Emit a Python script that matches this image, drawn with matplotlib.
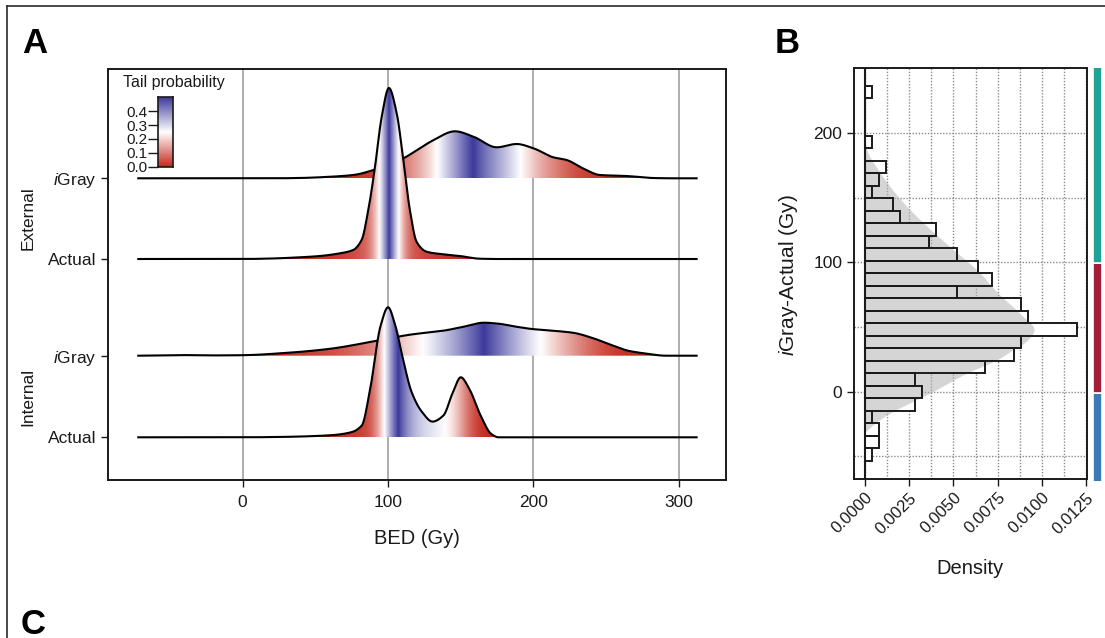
import numpy as np
import matplotlib
matplotlib.use("Agg")
import matplotlib.pyplot as plt
from matplotlib.colors import LinearSegmentedColormap
from matplotlib.patches import Polygon
from matplotlib.lines import Line2D
from matplotlib import font_manager

# ---------------------------------------------------------------- data
# Panel A: ridge profiles of BED (Gy), relative density heights
bed_range = (-72.5, 312.9)

ext_igray_x = [-72.5, 20, 39, 62, 76, 90, 100, 110.5, 119.7, 131, 146, 158.6,
               174.7, 188.4, 200, 213.6, 222.8, 234, 245.7, 264, 282, 295, 312.9]
ext_igray_h = [0, 0, 0.3, 1.7, 3.3, 8.3, 14, 20, 28, 38, 47, 41.7,
               31, 34.3, 30, 21, 18.3, 10, 3.3, 2.3, 0.3, 0, 0]

ext_actual_x = [-72.5, 0, 20, 39.4, 53.2, 67, 76, 81.8, 86.4, 91, 95.6, 100.6,
                105.9, 110.5, 115, 119.7, 126.5, 138, 149.4, 163, 175, 312.9]
ext_actual_h = [0, 0, 0.5, 1.7, 3, 5.7, 9, 19, 49, 92, 142, 171,
                146, 99, 49, 17, 7.3, 4.7, 3, 0.3, 0, 0]

int_igray_x = [-72.5, -50, -40, -20, 0, 29, 59, 90, 115, 138, 152, 166, 176,
               188, 199, 213, 227, 240, 253, 265, 278, 291, 312.9]
int_igray_h = [0, 0.3, 0.6, 0.3, 0.5, 2.7, 6.7, 14.3, 21, 25, 29, 33, 32,
               29, 26.7, 25, 23, 18, 11, 5, 2, 0, 0]

int_actual_x = [-72.5, 0, 23.6, 60, 74.5, 82, 87.3, 94.9, 100, 105, 110, 116,
                123, 130.6, 138, 144.6, 150, 156, 163.7, 171, 176, 312.9]
int_actual_h = [0, 0, 0.3, 2, 5, 12, 45, 111.7, 130, 111.7, 80, 46,
                26, 15.7, 21.7, 45, 60, 48, 21.7, 3.3, 0, 0]

row_labels = ["Actual", r"$\mathit{i}$Gray", "Actual", r"$\mathit{i}$Gray"]
row_positions = [0, 81.6, 178.3, 259]
group_labels = ["Internal", "External"]
bed_ticks = [0, 100, 200, 300]
tail_ticks = [0.0, 0.1, 0.2, 0.3, 0.4]

# Panel B: histogram of iGray - Actual (30 bins, bottom to top)
bin_start = -53.2
bin_width = 9.66
hist_density = [0.0004, 0.0008, 0.0008, 0.0004, 0.0028, 0.0032, 0.0028, 0.0068,
                0.0084, 0.0088, 0.0120, 0.0092, 0.0088, 0.0052, 0.0072, 0.0064,
                0.0052, 0.0036, 0.0040, 0.0020, 0.0016, 0.0004, 0.0008, 0.0012,
                0.0, 0.0004, 0.0, 0.0, 0.0, 0.0004]
kde_y = [-31, -21.4, -13.7, -0.8, 14.7, 25, 32.8, 40, 48.2, 60, 76.6, 92,
         107.6, 128, 148.9, 169.6, 187.6, 196]
kde_d = [0, 0.00085, 0.0018, 0.0037, 0.0058, 0.0075, 0.0084, 0.0092, 0.00956,
         0.0088, 0.0075, 0.0065, 0.0052, 0.0035, 0.002, 0.00085, 0.0001, 0]
density_ticks = [0.0, 0.0025, 0.005, 0.0075, 0.01, 0.0125]
diff_ticks = [0, 100, 200]
strip_breaks = [0, 100]
strip_colors = ["#3b7bb5", "#a31d3c", "#1fa396"]

# ---------------------------------------------------------------- style
names = {f.name for f in font_manager.fontManager.ttflist}
FONT = "Liberation Sans" if "Liberation Sans" in names else "DejaVu Sans"
plt.rcParams["font.family"] = [FONT, "DejaVu Sans"]
plt.rcParams["mathtext.fontset"] = "custom"
plt.rcParams["mathtext.rm"] = FONT
plt.rcParams["mathtext.it"] = FONT + ":italic"

TXT = "#1a1a1a"
tail_cmap = LinearSegmentedColormap.from_list(
    "tail", ["#c4291c", "#ffffff", "#3d3a9c"])

W, H = 1105, 638
fig = plt.figure(figsize=(W / 100, H / 100), dpi=100)


def px_box(l, t, r, b):
    return [l / W, 1 - b / H, (r - l) / W, (b - t) / H]


def pchip(x, y, xn):
    x = np.asarray(x, float)
    y = np.asarray(y, float)
    h = np.diff(x)
    delta = np.diff(y) / h
    d = np.zeros_like(y)
    for k in range(1, len(x) - 1):
        if delta[k - 1] * delta[k] > 0:
            w1 = 2 * h[k] + h[k - 1]
            w2 = h[k] + 2 * h[k - 1]
            d[k] = (w1 + w2) / (w1 / delta[k - 1] + w2 / delta[k])
    d[0] = delta[0] if delta[0] * delta[1] > 0 else 0
    d[-1] = delta[-1] if delta[-1] * delta[-2] > 0 else 0
    idx = np.clip(np.searchsorted(x, xn) - 1, 0, len(x) - 2)
    t = (xn - x[idx]) / h[idx]
    h00 = 2 * t**3 - 3 * t**2 + 1
    h10 = t**3 - 2 * t**2 + t
    h01 = -2 * t**3 + 3 * t**2
    h11 = t**3 - t**2
    return (h00 * y[idx] + h10 * h[idx] * d[idx] + h01 * y[idx + 1]
            + h11 * h[idx] * d[idx + 1])


# ---------------------------------------------------------------- panel A
axA = fig.add_axes(px_box(108.3, 69, 725.7, 480))
xs = np.linspace(bed_range[0], bed_range[1], 2000)

ridges = [(ext_igray_x, ext_igray_h, row_positions[3]),
          (ext_actual_x, ext_actual_h, row_positions[2]),
          (int_igray_x, int_igray_h, row_positions[1]),
          (int_actual_x, int_actual_h, row_positions[0])]

z = 2
for rx, rh, base in ridges:
    hs = np.clip(pchip(rx, rh, xs), 0, None)
    cdf = np.concatenate([[0], np.cumsum(0.5 * (hs[1:] + hs[:-1]) * np.diff(xs))])
    cdf /= cdf[-1]
    tail = np.minimum(cdf, 1 - cdf)
    rgba = tail_cmap(tail / 0.5)[np.newaxis, :, :]
    im = axA.imshow(rgba, extent=[xs[0], xs[-1], base, base + hs.max()],
                    aspect="auto", origin="lower", interpolation="bilinear",
                    zorder=z)
    poly = Polygon(np.column_stack([np.concatenate([xs, xs[::-1]]),
                                    np.concatenate([base + hs,
                                                    np.full_like(xs, base)])]),
                   closed=True, fc="none", ec="none", transform=axA.transData)
    axA.add_patch(poly)
    im.set_clip_path(poly)
    axA.plot(xs, base + hs, color="black", lw=1.5, zorder=z + 0.5,
             solid_capstyle="butt")
    z += 1

axA.set_xlim(-92.4, 332.2)
axA.set_ylim(-42.7, 368.3)
axA.set_xticks(bed_ticks)
axA.set_yticks(row_positions)
axA.set_yticklabels(row_labels)
axA.grid(axis="x", color="#a0a0a0", lw=1.2, zorder=0)
axA.set_axisbelow(True)
axA.tick_params(axis="both", direction="out", length=5, width=1,
                colors=TXT, labelsize=12.5, labelcolor=TXT)
axA.tick_params(axis="x", pad=6)
for sp in axA.spines.values():
    sp.set_linewidth(1.4)
    sp.set_color("#1a1a1a")

fig.text(416.5 / W, 1 - 538 / H, "BED (Gy)", ha="center", va="center",
         fontsize=14.5, color=TXT)
fig.text(28 / W, 1 - 396.5 / H, group_labels[0], rotation=90, ha="center",
         va="center", fontsize=12.5, color=TXT)
fig.text(28 / W, 1 - 218.6 / H, group_labels[1], rotation=90, ha="center",
         va="center", fontsize=12.5, color=TXT)

# tail probability legend
cax = fig.add_axes(px_box(158.3, 97.3, 173.3, 166.7))
grad = np.linspace(0, 0.5, 256).reshape(-1, 1)
cax.imshow(grad, cmap=tail_cmap, origin="lower", extent=[0, 1, 0, 0.5],
           aspect="auto", vmin=0, vmax=0.5)
cax.set_ylim(0, 0.5)
cax.set_xticks([])
cax.set_yticks(tail_ticks)
cax.set_yticklabels([f"{t:.1f}" for t in tail_ticks])
cax.tick_params(axis="y", direction="out", length=7, width=1, pad=1,
                labelsize=11, colors=TXT)
for sp in cax.spines.values():
    sp.set_linewidth(1.2)
    sp.set_color("#1a1a1a")
fig.text(123 / W, 1 - 82 / H, "Tail probability", ha="left", va="center",
         fontsize=11.5, color=TXT)

# ---------------------------------------------------------------- panel B
axB = fig.add_axes(px_box(854, 68.3, 1086.7, 479))
edges = bin_start + bin_width * np.arange(len(hist_density) + 1)
centers = 0.5 * (edges[1:] + edges[:-1])
dens = np.array(hist_density)
keep = dens > 0
axB.barh(centers[keep], dens[keep], height=bin_width, left=0, color="white",
         edgecolor="none", zorder=1)
ky = np.linspace(kde_y[0], kde_y[-1], 600)
kd = np.clip(pchip(kde_y, kde_d, ky), 0, None)
axB.fill_betweenx(ky, 0, kd, color="#b0b0b0", alpha=0.52, lw=0, zorder=2)
axB.barh(centers[keep], dens[keep], height=bin_width, left=0, fill=False,
         edgecolor="#1a1a1a", lw=1.4, zorder=3)
axB.axvline(0, color="#1a1a1a", lw=1.5, zorder=4)

axB.set_xlim(-0.000625, 0.01254)
axB.set_ylim(-67.5, 250.2)
axB.set_xticks(density_ticks)
axB.set_xticks([t + 0.00125 for t in density_ticks[:-1]], minor=True)
axB.set_yticks(diff_ticks)
axB.set_yticks([-50, 50, 150], minor=True)
axB.grid(which="both", color="#8c8c8c", lw=1.0, ls=(0, (1, 1.2)), zorder=0)
axB.set_axisbelow(True)
axB.set_xticklabels([f"{t:.4f}" for t in density_ticks], rotation=45,
                    ha="right", va="top", rotation_mode="anchor")
axB.tick_params(which="minor", length=0)
axB.tick_params(which="major", direction="out", length=5, width=1,
                colors=TXT, labelsize=12, labelcolor=TXT)
axB.tick_params(axis="y", labelsize=12.5)
axB.tick_params(axis="x", pad=3)
for sp in axB.spines.values():
    sp.set_linewidth(1.4)
    sp.set_color("#1a1a1a")

fig.text(970 / W, 1 - 568 / H, "Density", ha="center", va="center",
         fontsize=14.5, color=TXT)
fig.text(789 / W, 1 - 275 / H, r"$\mathit{i}$Gray-Actual (Gy)", rotation=90,
         ha="center", va="center", fontsize=15, color=TXT)

# category strip beside the histogram
axS = fig.add_axes(px_box(1093.3, 67.5, 1101.7, 480.5))
ylo, yhi = axB.get_ylim()
bounds = [ylo - 1] + strip_breaks + [yhi + 1]
for lo, hi, col in zip(bounds[:-1], bounds[1:], strip_colors):
    axS.bar(0.5, hi - lo, bottom=lo, width=1, color=col, edgecolor="white",
            lw=1.2)
axS.set_xlim(0, 1)
axS.set_ylim(ylo, yhi)
axS.axis("off")

# ---------------------------------------------------------------- panel letters and frame
for letter, x, y in [("A", 22, 53), ("B", 775, 53), ("C", 21, 634)]:
    fig.text(x / W, 1 - y / H, letter, ha="left", va="baseline",
             fontsize=25, fontweight="bold", color="black")

fig.add_artist(Line2D([7 / W, 1], [1 - 5.5 / H, 1 - 5.5 / H], color="#2a2a2a",
                      lw=1.2, transform=fig.transFigure))
fig.add_artist(Line2D([7 / W, 7 / W], [0, 1 - 5.5 / H], color="#2a2a2a",
                      lw=1.2, transform=fig.transFigure))

fig.savefig("out.png", dpi=100)
